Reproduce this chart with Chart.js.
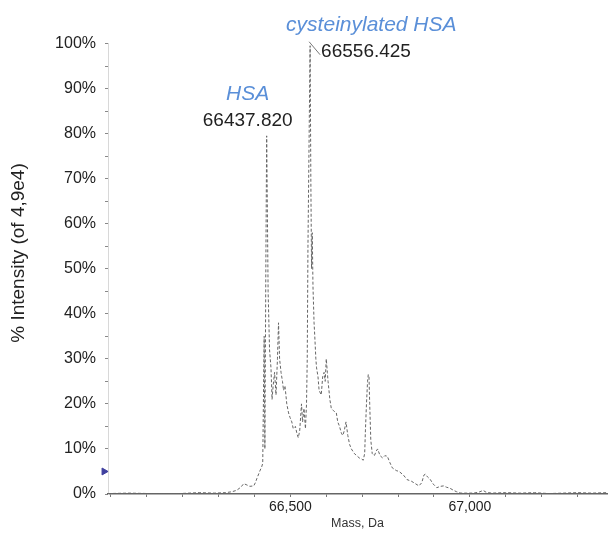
<!DOCTYPE html>
<html>
<head>
<meta charset="utf-8">
<script src="https://cdn.jsdelivr.net/npm/chart.js@4"></script>
<style>
  html, body { margin: 0; padding: 0; background: #fff; }
  canvas { display: block; }
</style>
</head>
<body>
<canvas id="myChart" width="612" height="538"></canvas>
<script>
// reconstructed mass spectrum (Da vs % intensity)
const massDa = [
  65992, 66050, 66108, 66191, 66246, 66288, 66320, 66337, 66350, 66362,
  66370, 66379, 66387, 66398, 66403, 66407, 66412, 66416, 66420, 66423,
  66427, 66429, 66432, 66434, 66438, 66442, 66446, 66449, 66452, 66456,
  66460, 66464, 66467, 66470, 66474, 66478, 66481, 66485, 66490, 66495,
  66499, 66504, 66508, 66514, 66518, 66522, 66526, 66531, 66534, 66538,
  66542, 66545, 66547, 66549, 66551, 66553, 66555, 66557, 66559, 66561,
  66563, 66566, 66568, 66571, 66573, 66577, 66580, 66586, 66590, 66594,
  66597, 66600, 66603, 66605, 66610, 66614, 66620, 66628, 66632, 66637,
  66642, 66646, 66650, 66655, 66660, 66665, 66670, 66678, 66685, 66692,
  66698, 66703, 66707, 66709, 66712, 66715, 66717, 66719, 66721, 66724,
  66728, 66734, 66739, 66743, 66750, 66757, 66763, 66770, 66777, 66784,
  66795, 66803, 66815, 66825, 66838, 66848, 66858, 66866, 66872, 66876,
  66882, 66889, 66898, 66908, 66918, 66927, 66935, 66944, 66955, 66963,
  66975, 66991, 67010, 67025, 67037, 67045, 67060, 67100, 67140, 67180,
  67220, 67260, 67300, 67340, 67382
];
const intensityPct = [
  0.1, 0.2, 0.1, 0.1, 0.3, 0.2, 0.3, 0.5, 0.8, 1.5,
  2.3, 2.0, 1.7, 1.8, 2.6, 3.5, 4.5, 5.3, 6.0, 6.8,
  35, 10, 55, 79.5, 45, 32, 28, 21, 24, 27,
  22, 30, 38, 30, 27, 25, 23, 24, 20, 18,
  17, 16, 14.5, 15, 13.5, 12.5, 14, 20, 16, 19,
  14.5, 20, 30, 55, 70, 85, 99.5, 70, 50, 58,
  46, 38, 35, 30, 28, 26, 23, 22, 26, 27,
  25, 30, 27, 25, 21, 19, 18.5, 18, 16, 15,
  13.5, 13, 14, 16, 13, 11, 10, 9, 8.5, 8,
  7.8, 7.5, 9, 14, 20, 25, 26.5, 26, 20, 12,
  9, 8.5, 9.5, 10, 8.5, 8, 8.5, 8.4, 7, 5.8,
  5.2, 5, 4.2, 3.2, 2.8, 2.3, 1.8, 2.5, 4.2, 4.4,
  3.8, 3.3, 2.2, 1.4, 1.7, 1.8, 1.5, 1.3, 0.8, 0.5,
  0.2, 0.2, 0.2, 0.4, 0.8, 0.4, 0.2, 0.3, 0.2, 0.3,
  0.1, 0.2, 0.3, 0.2, 0.3
];

// peak annotations
const peakNames = ["HSA", "cysteinylated HSA"];
const peakMass = [66434, 66555];
const peakLabels = ["66437.820", "66556.425"];
const peakHeights = [79.5, 99.5];

const thresholdPct = 5;

const xMin = 65992, xMax = 67382;
const xTicks = [];
for (let v = 66000; v <= 67300; v += 100) xTicks.push(v);

const spectrum = massDa.map((m, i) => ({ x: m, y: intensityPct[i] }));

const textColor = "#222";
const blue = "#5a8fd8";

const peakLabelPlugin = {
  id: "peakLabels",
  afterDraw(chart) {
    const c = chart.ctx;
    const xs = chart.scales.x, ys = chart.scales.y;
    c.save();

    // HSA
    let px = xs.getPixelForValue(peakMass[0]);
    c.textAlign = "center";
    c.textBaseline = "middle";
    c.fillStyle = blue;
    c.font = "italic 21px 'Liberation Sans', Arial, sans-serif";
    c.fillText(peakNames[0], px - 19, 94);
    c.fillStyle = textColor;
    c.font = "19px 'Liberation Sans', Arial, sans-serif";
    c.fillText(peakLabels[0], px - 19, 121);

    // cysteinylated HSA
    px = xs.getPixelForValue(peakMass[1]);
    const py = ys.getPixelForValue(peakHeights[1]);
    c.strokeStyle = "#777";
    c.lineWidth = 1;
    c.beginPath();
    c.moveTo(px - 1, py - 4);
    c.lineTo(px + 10, py + 9);
    c.stroke();
    c.textAlign = "left";
    c.fillStyle = blue;
    c.font = "italic 21px 'Liberation Sans', Arial, sans-serif";
    c.fillText(peakNames[1], px - 24, 25);
    c.fillStyle = textColor;
    c.font = "19px 'Liberation Sans', Arial, sans-serif";
    c.fillText(peakLabels[1], px + 11, 52);

    // y axis title
    c.translate(19, 253);
    c.rotate(-Math.PI / 2);
    c.textAlign = "center";
    c.font = "19px 'Liberation Sans', Arial, sans-serif";
    c.fillText("% Intensity (of 4,9e4)", 0, 0);
    c.restore();
  }
};

let ctx = document.getElementById("myChart").getContext("2d");
let myChart = new Chart(ctx, {
  type: "line",
  data: {
    datasets: [
      {
        data: spectrum,
        borderColor: "#666",
        borderWidth: 1,
        borderDash: [3, 2],
        pointRadius: 0,
        tension: 0,
        fill: false
      },
      {
        // threshold marker on the y axis
        data: [{ x: xMin - 11, y: thresholdPct }],
        showLine: false,
        pointStyle: "triangle",
        rotation: 90,
        pointRadius: 4,
        backgroundColor: "#3f3f9e",
        borderColor: "#3f3f9e",
        clip: false
      }
    ]
  },
  options: {
    responsive: false,
    animation: false,
    layout: { padding: { top: 43.5, right: 0, left: 0, bottom: 0 } },
    plugins: {
      legend: { display: false },
      tooltip: { enabled: false }
    },
    scales: {
      x: {
        type: "linear",
        min: xMin,
        max: xMax,
        afterFit: (s) => { s.height = 44; },
        afterBuildTicks: (s) => { s.ticks = xTicks.map(v => ({ value: v })); },
        border: { color: "#666", width: 1.5 },
        grid: { drawOnChartArea: false, tickLength: 3, tickColor: "#777" },
        ticks: {
          autoSkip: false,
          maxRotation: 0,
          padding: 2,
          color: textColor,
          font: { family: "'Liberation Sans', Arial, sans-serif", size: 14 },
          callback: (v) => (v % 500 === 0 && v > 66000) ? v.toLocaleString("en-US") : ""
        },
        title: {
          display: true,
          text: "Mass, Da",
          color: "#333",
          font: { family: "'Liberation Sans', Arial, sans-serif", size: 12.5 },
          padding: { top: 0, bottom: 7 }
        }
      },
      y: {
        min: 0,
        max: 100,
        afterFit: (s) => { s.width = 108; },
        border: { color: "#d8d8d8", width: 1 },
        grid: { drawOnChartArea: false, tickLength: 3, tickColor: "#888" },
        ticks: {
          stepSize: 5,
          padding: 9,
          color: textColor,
          font: { family: "'Liberation Sans', Arial, sans-serif", size: 16 },
          callback: (v) => v % 10 === 0 ? v + "%" : ""
        }
      }
    }
  },
  plugins: [peakLabelPlugin]
});
</script>
</body>
</html>
